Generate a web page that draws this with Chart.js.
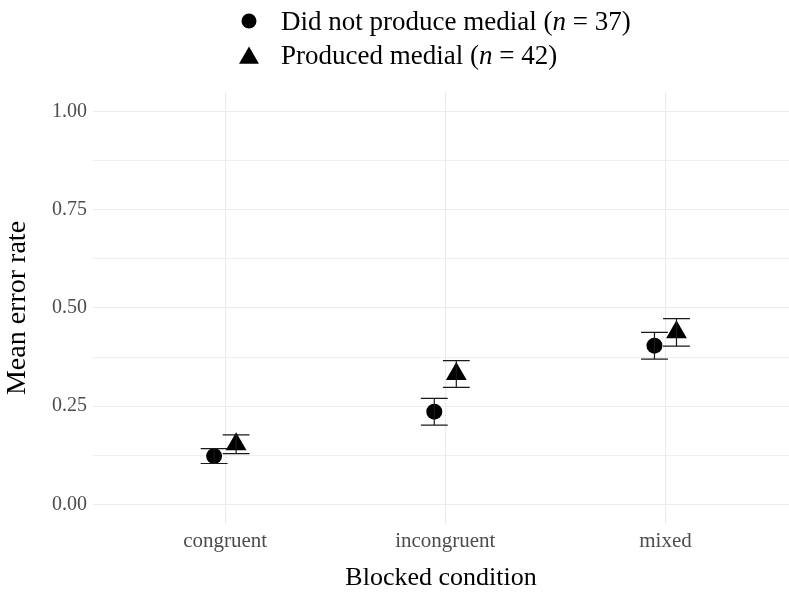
<!DOCTYPE html>
<html>
<head>
<meta charset="utf-8">
<title>Mean error rate by blocked condition</title>
<script src="https://cdn.jsdelivr.net/npm/chart.js@4.4.1/dist/chart.umd.min.js"></script>
<style>
  html, body { margin: 0; padding: 0; background: #ffffff; overflow: hidden; }
  #wrap { width: 789px; height: 592px; position: relative; }
</style>
</head>
<body>
<div id="wrap"><canvas id="chart" width="789" height="592"></canvas></div>
<script>
// Blocked conditions on the x axis
const conditions = ['congruent', 'incongruent', 'mixed'];

// Groups and sample sizes
const groupLabels = ['Did not produce medial', 'Produced medial'];
const groupN = [37, 42];

// Mean error rate and standard error per condition
const meanNoMedial = [0.123, 0.236, 0.404];
const seNoMedial   = [0.019, 0.034, 0.034];
const meanMedial   = [0.153, 0.332, 0.438];
const seMedial     = [0.024, 0.034, 0.035];

// Y axis ticks
const yTickValues = [0, 0.25, 0.5, 0.75, 1];
const yTickLabels = ['0.00', '0.25', '0.50', '0.75', '1.00'];

const FONT = '"Liberation Serif", "Times New Roman", serif';
const DODGE = 0.05;      // horizontal offset of each group from the category centre
const CAP_HALF = 0.061;  // half width of error-bar caps, in category units
const GRID = '#ebebeb';

function points(means, shift) {
  return means.map((m, i) => ({ x: i + shift, y: m }));
}

// Error bars drawn from mean ± se through the chart's scales
const errorBars = {
  id: 'errorBars',
  afterDatasetsDraw(chart) {
    const { ctx, scales: { x, y } } = chart;
    const capPx = x.getPixelForValue(CAP_HALF) - x.getPixelForValue(0);
    ctx.save();
    ctx.strokeStyle = '#1a1a1a';
    ctx.lineWidth = 1.2;
    chart.data.datasets.forEach((ds, di) => {
      const meta = chart.getDatasetMeta(di);
      meta.data.forEach((el, i) => {
        const px = el.x;
        const yLo = y.getPixelForValue(ds.data[i].y - ds.errors[i]);
        const yHi = y.getPixelForValue(ds.data[i].y + ds.errors[i]);
        ctx.beginPath();
        ctx.moveTo(px, yLo); ctx.lineTo(px, yHi);
        ctx.moveTo(px - capPx, yLo); ctx.lineTo(px + capPx, yLo);
        ctx.moveTo(px - capPx, yHi); ctx.lineTo(px + capPx, yHi);
        ctx.stroke();
      });
    });
    ctx.restore();
  }
};

// Legend at the top: marker, label and italic n
const topLegend = {
  id: 'topLegend',
  afterDraw(chart) {
    const ctx = chart.ctx;
    const size = 27;
    const upright = size + 'px ' + FONT;
    const italic = 'italic ' + size + 'px ' + FONT;
    const rows = [
      { style: 'circle', cy: 21, base: 30 },
      { style: 'triangle', cy: 58, base: 64 }
    ];
    ctx.save();
    ctx.fillStyle = '#000';
    rows.forEach((row, i) => {
      if (row.style === 'circle') {
        ctx.beginPath();
        ctx.arc(249, row.cy, 7.5, 0, Math.PI * 2);
        ctx.fill();
      } else {
        const r = 11.5;
        ctx.beginPath();
        ctx.moveTo(249, row.cy - r);
        ctx.lineTo(249 + r * Math.sqrt(3) / 2, row.cy + r / 2);
        ctx.lineTo(249 - r * Math.sqrt(3) / 2, row.cy + r / 2);
        ctx.closePath();
        ctx.fill();
      }
      const parts = [
        [groupLabels[i] + ' (', upright],
        ['n', italic],
        [' = ' + groupN[i] + ')', upright]
      ];
      let tx = 281;
      ctx.textBaseline = 'alphabetic';
      ctx.textAlign = 'left';
      parts.forEach(([txt, f]) => {
        ctx.font = f;
        ctx.fillText(txt, tx, row.base);
        tx += ctx.measureText(txt).width;
      });
    });
    ctx.restore();
  }
};

new Chart(document.getElementById('chart'), {
  type: 'scatter',
  data: {
    datasets: [
      {
        label: groupLabels[0],
        data: points(meanNoMedial, -DODGE),
        errors: seNoMedial,
        pointStyle: 'circle',
        pointRadius: 8,
        pointHoverRadius: 8,
        pointBorderWidth: 0,
        backgroundColor: '#000',
        borderColor: '#000'
      },
      {
        label: groupLabels[1],
        data: points(meanMedial, DODGE),
        errors: seMedial,
        pointStyle: 'triangle',
        pointRadius: 12,
        pointHoverRadius: 12,
        pointBorderWidth: 0,
        backgroundColor: '#000',
        borderColor: '#000'
      }
    ]
  },
  options: {
    responsive: false,
    animation: false,
    devicePixelRatio: 1,
    layout: { autoPadding: false, padding: { top: 92, left: 0, right: 0, bottom: 0 } },
    plugins: {
      legend: { display: false },
      tooltip: { enabled: false }
    },
    scales: {
      x: {
        type: 'linear',
        min: -0.6,
        max: 2.561,
        afterBuildTicks(scale) {
          scale.ticks = conditions.map((_, i) => ({ value: i }));
        },
        afterFit(scale) { scale.height = 68; },
        border: { display: false },
        grid: { color: GRID, lineWidth: 1.1, drawTicks: false },
        ticks: {
          padding: 5,
          maxRotation: 0,
          autoSkip: false,
          color: '#4d4d4d',
          font: { family: FONT, size: 21 },
          callback: (v) => conditions[v]
        },
        title: {
          display: true,
          text: 'Blocked condition',
          color: '#000',
          font: { family: FONT, size: 26, lineHeight: 1 },
          padding: { top: 0, bottom: 1 }
        }
      },
      y: {
        type: 'linear',
        min: -0.05,
        max: 1.05,
        afterBuildTicks(scale) {
          const t = [];
          for (let i = 0; i <= 8; i++) t.push({ value: i * 0.125 });
          scale.ticks = t;
        },
        afterFit(scale) { scale.width = 93; },
        border: { display: false },
        grid: {
          color: GRID,
          drawTicks: false,
          lineWidth: (c) => (yTickValues.includes(c.tick.value) ? 1.1 : 0.8)
        },
        ticks: {
          padding: 6,
          color: '#4d4d4d',
          font: { family: FONT, size: 20 },
          callback: (v) => {
            const k = yTickValues.indexOf(v);
            return k >= 0 ? yTickLabels[k] : '';
          }
        },
        title: {
          display: true,
          text: 'Mean error rate',
          color: '#000',
          font: { family: FONT, size: 28, lineHeight: 1 },
          padding: { top: 4, bottom: 0 }
        }
      }
    }
  },
  plugins: [errorBars, topLegend]
});
</script>
</body>
</html>
